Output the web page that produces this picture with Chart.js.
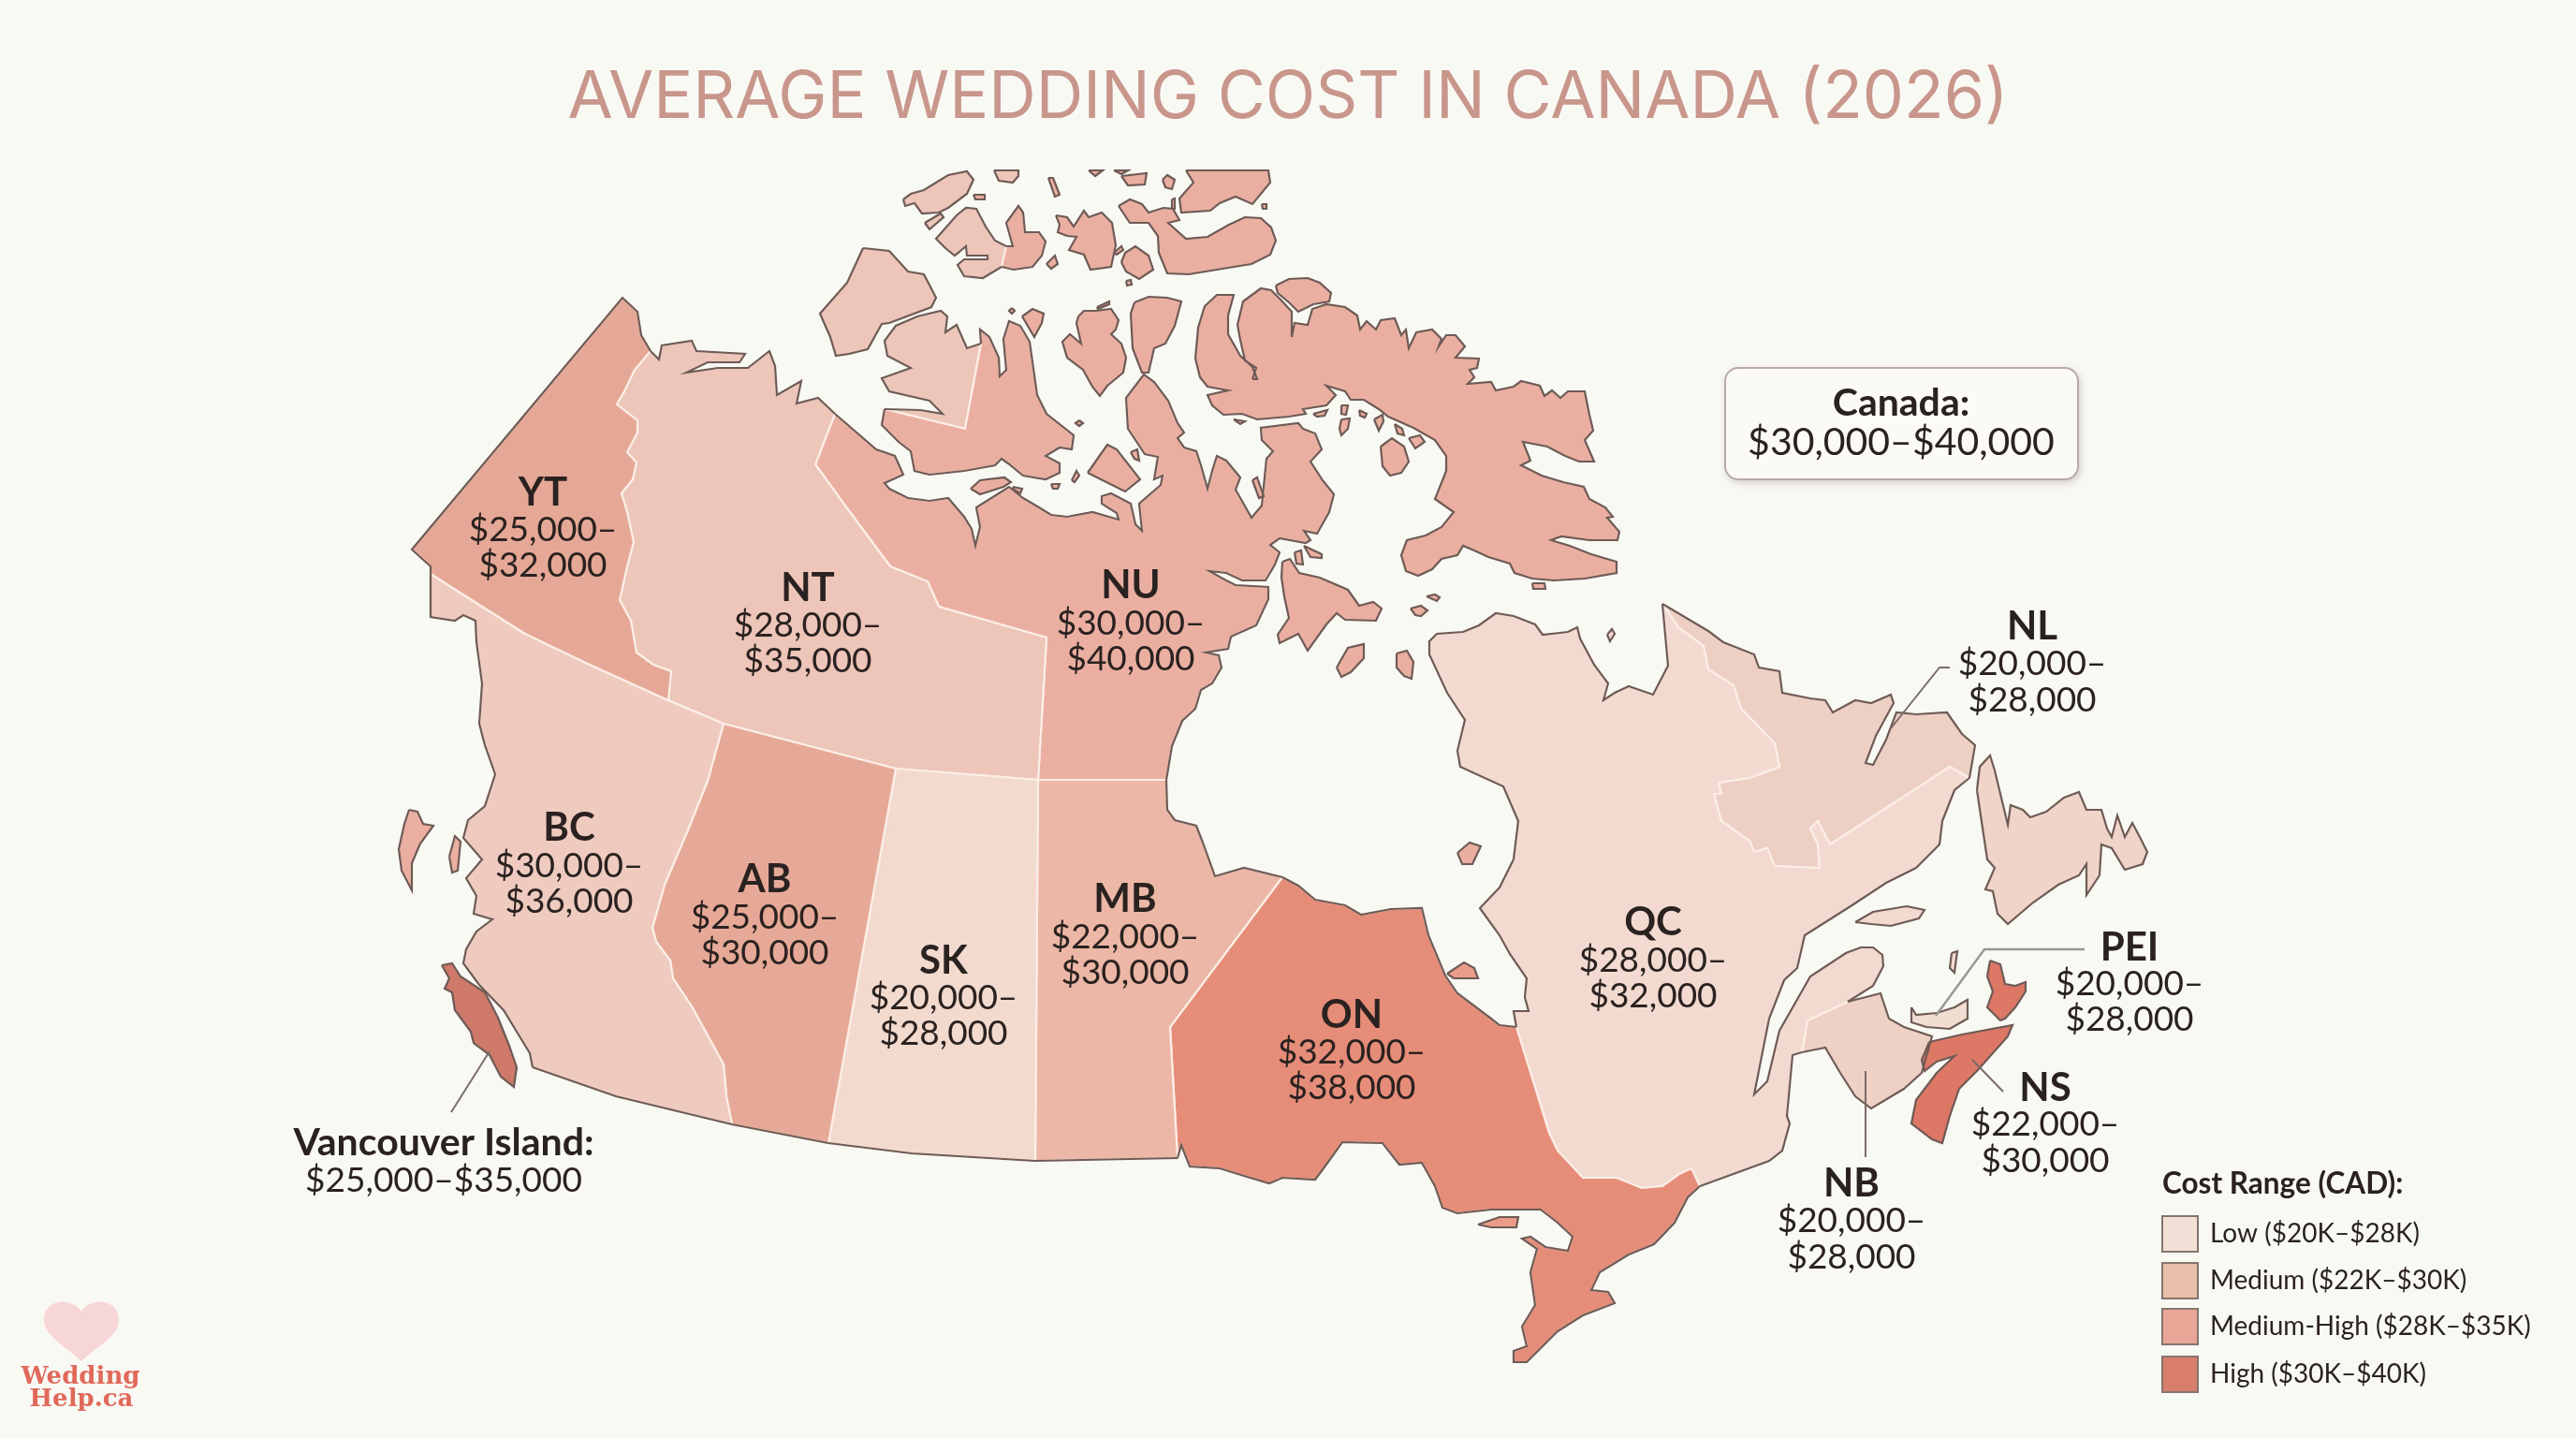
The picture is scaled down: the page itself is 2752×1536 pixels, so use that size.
<!DOCTYPE html>
<html>
<head>
<meta charset="utf-8">
<title>Average wedding cost in Canada</title>
<script src="https://cdn.jsdelivr.net/npm/chart.js"></script>
<style>
  html, body { margin: 0; padding: 0; background: #f9f9f4; }
  canvas { display: block; }
</style>
</head>
<body>
<canvas id="map" width="2752" height="1536"></canvas>
<script>
// =============== data ===============
const titleText = "AVERAGE WEDDING COST IN CANADA (2026)";

const regionCodes = ["YT", "NT", "NU", "BC", "AB", "SK", "MB", "ON", "QC", "NL", "PEI", "NS", "NB"];
const costLow  = [25000, 28000, 30000, 30000, 25000, 20000, 22000, 32000, 28000, 20000, 20000, 22000, 20000];
const costHigh = [32000, 35000, 40000, 36000, 30000, 28000, 30000, 38000, 32000, 28000, 28000, 30000, 28000];
const islandName = "Vancouver Island:";
const islandCost = [25000, 35000];
const canadaCost = [30000, 40000];

const legendTitle = "Cost Range (CAD):";
const legendLabels = ["Low ($20K–$28K)", "Medium ($22K–$30K)", "Medium-High ($28K–$35K)", "High ($30K–$40K)"];

// outlines in picture pixels
const ytNorth = [[460,613],[460,605],[440,587],[665,318],[681,333],[685,358],[695,375]];
const ytNt = [[695,375],[678,395],[667,418],[659,432],[681,449],[681,462],[670,483],[680,494],[676,512],[664,527],[670,547],[677,579],[670,605],[662,641],[674,663],[680,697],[698,710],[717,717],[714,748]];
const ytBc = [[714,748],[630,710],[561,677],[460,613]];
const bcCoast = [[460,613],[460,659],[486,663],[495,657],[508,663],[509,686],[515,730],[512,773],[518,796],[529,827],[518,861],[500,876],[495,895],[515,918],[498,938],[509,957],[506,976],[526,982],[509,995],[498,1014],[495,1029],[512,1052],[538,1079],[552,1102],[566,1125],[569,1140]];
const bcSouth = [[569,1140],[658,1171],[782,1201]];
const abSouth = [[782,1201],[885,1221]];
const skSouth = [[885,1221],[974,1232],[1106,1240]];
const mbSouth = [[1106,1240],[1258,1237]];
const bcAb = [[773,773],[756,834],[736,884],[710,945],[697,991],[701,1006],[716,1026],[719,1045],[739,1075],[756,1106],[773,1137],[776,1171],[782,1201]];
const bcTop = [[714,748],[773,773]];
const abTop = [[773,773],[957,821]];
const skTop = [[957,821],[1109,833]];
const mbTop = [[1109,833],[1246,833]];
const abSk = [[957,821],[885,1221]];
const skMb = [[1109,833],[1106,1240]];
const ntCoast = [[695,375],[704,384],[707,369],[739,364],[744,375],[796,378],[790,387],[756,387],[733,398],[767,393],[799,393],[822,375],[828,391],[830,422],[856,407],[851,431],[874,425],[892,442]];
const ntNu = [[892,442],[871,496],[905,543],[951,605],[991,621],[1003,648],[1118,681],[1109,833]];
const nuCoast = [[892,442],[936,480],[956,487],[965,507],[945,516],[950,522],[970,532],[993,535],[1013,532],[1030,552],[1038,565],[1042,583],[1047,563],[1043,542],[1067,527],[1078,520],[1093,532],[1110,542],[1123,550],[1140,552],[1167,547],[1195,555],[1193,548],[1177,538],[1177,530],[1187,527],[1208,538],[1213,560],[1220,567],[1217,538],[1240,518],[1242,508],[1233,512],[1237,488],[1223,485],[1205,458],[1203,425],[1222,400],[1233,408],[1248,428],[1258,452],[1265,462],[1258,468],[1265,478],[1278,482],[1283,497],[1290,522],[1295,503],[1300,487],[1310,492],[1325,510],[1320,523],[1337,553],[1348,540],[1353,490],[1360,482],[1348,470],[1347,457],[1387,452],[1392,458],[1405,463],[1412,480],[1400,493],[1413,513],[1425,528],[1420,547],[1407,570],[1393,567],[1400,577],[1395,580],[1367,575],[1357,582],[1367,590],[1362,603],[1352,620],[1327,620],[1310,612],[1292,610],[1310,620],[1320,625],[1355,627],[1355,640],[1342,668],[1315,680],[1312,693],[1288,697],[1302,700],[1305,713],[1295,730],[1283,737],[1277,757],[1263,770],[1252,797],[1246,833]];
const mbCoast = [[1246,833],[1247,865],[1255,876],[1278,882],[1285,900],[1298,936],[1329,927],[1370,937]];
const mbOn = [[1370,937],[1250,1097],[1258,1237]];
const onCoast = [[1370,937],[1387,946],[1405,961],[1437,967],[1454,977],[1486,971],[1519,970],[1526,999],[1544,1042],[1557,1061],[1593,1088],[1602,1095],[1620,1097]];
const onQc = [[1620,1097],[1655,1210],[1664,1229],[1691,1258],[1727,1258],[1754,1269],[1776,1267],[1794,1254],[1807,1248],[1816,1267]];
const onSouth = [[1816,1267],[1803,1279],[1789,1306],[1767,1329],[1740,1340],[1709,1359],[1700,1378],[1718,1380],[1725,1392],[1691,1405],[1664,1422],[1646,1440],[1631,1455],[1617,1455],[1617,1443],[1631,1438],[1626,1417],[1640,1394],[1635,1359],[1642,1334],[1626,1323],[1635,1321],[1651,1332],[1675,1336],[1680,1321],[1664,1306],[1646,1292],[1593,1292],[1557,1296],[1541,1290],[1533,1267],[1519,1242],[1495,1244],[1477,1221],[1434,1220],[1419,1241],[1405,1260],[1370,1258],[1356,1264],[1329,1256],[1303,1248],[1271,1246],[1262,1223],[1258,1237]];
const qcBayCoast = [[1620,1097],[1617,1080],[1633,1080],[1629,1065],[1631,1045],[1613,1019],[1602,999],[1581,970],[1602,948],[1617,918],[1622,877],[1606,840],[1560,819],[1557,802],[1565,769],[1546,740],[1527,699],[1527,685],[1535,677],[1563,675],[1580,668],[1598,655],[1617,658],[1640,667],[1648,678],[1675,675],[1685,670],[1688,682],[1703,710],[1718,730],[1713,748],[1725,740],[1740,733],[1766,742],[1782,711],[1776,645]];
const qcNl = [[1776,645],[1793,670],[1820,690],[1825,715],[1852,732],[1860,757],[1896,794],[1901,819],[1869,831],[1836,836],[1839,848],[1831,848],[1839,877],[1869,898],[1874,910],[1888,906],[1896,925],[1944,927],[1942,902],[1934,885],[1942,877],[1955,902],[2083,819],[2104,831]];
const nlCoast = [[1776,645],[1825,674],[1841,686],[1874,699],[1879,713],[1901,717],[1904,740],[1934,746],[1950,748],[1958,761],[1982,748],[1999,751],[2020,742],[2023,751],[2004,786],[1993,815],[2001,817],[2015,790],[2026,761],[2047,763],[2080,761],[2096,784],[2110,796],[2104,831]];
const qcGulfCoast = [[2104,831],[2088,844],[2075,877],[2072,902],[2047,927],[2015,943],[1977,968],[1928,999],[1920,1034],[1906,1047],[1890,1088],[1874,1169],[1888,1155],[1901,1101],[1934,1043],[1972,1018],[1988,1012],[2001,1012],[2011,1020],[2012,1032],[2001,1053],[1974,1070]];
const qcNb = [[1974,1070],[1961,1076],[1931,1090],[1925,1124]];
const qcSouth = [[1925,1124],[1915,1127],[1909,1192],[1912,1200],[1904,1229],[1890,1240],[1816,1267]];
const nbCoast = [[1974,1070],[2009,1061],[2018,1088],[2034,1097],[2064,1107],[2053,1146],[2034,1163],[1999,1184],[1982,1171],[1966,1146],[1950,1119],[1925,1124]];

const vancouverIsland = [[472,1031],[483,1029],[492,1043],[518,1060],[532,1087],[544,1117],[552,1140],[549,1161],[535,1150],[523,1127],[506,1114],[503,1102],[486,1079],[483,1060],[475,1056],[480,1045]];
const nsMain = [[2061,1113],[2096,1105],[2150,1095],[2145,1107],[2112,1144],[2093,1163],[2083,1192],[2075,1221],[2064,1217],[2042,1200],[2047,1175],[2069,1146],[2088,1128],[2069,1134],[2056,1144],[2053,1132]];
const capeBreton = [[2126,1026],[2137,1030],[2142,1051],[2153,1053],[2164,1049],[2164,1059],[2153,1076],[2142,1088],[2137,1090],[2123,1076],[2129,1059],[2123,1043]];
const peiIsland = [[2042,1076],[2047,1084],[2069,1082],[2088,1076],[2102,1068],[2102,1088],[2083,1099],[2058,1097],[2042,1092]];
const newfoundland = [[2112,844],[2115,819],[2126,807],[2131,823],[2145,881],[2148,860],[2161,865],[2169,873],[2186,867],[2205,852],[2221,846],[2229,865],[2245,865],[2251,885],[2256,894],[2262,871],[2270,894],[2278,879],[2286,894],[2294,910],[2289,923],[2270,929],[2256,906],[2245,902],[2243,935],[2229,956],[2229,923],[2221,935],[2199,945],[2172,964],[2145,987],[2134,976],[2129,952],[2121,950],[2131,927],[2123,918]];

const victoriaNtCoast = [[1048,367],[1033,372],[1022,347],[1010,355],[1012,338],[1005,332],[980,338],[957,348],[945,364],[948,380],[973,393],[942,404],[950,418],[993,428],[1007,442],[983,438],[945,437]];
const victoriaNuCoast = [[1048,367],[1047,352],[1057,360],[1067,382],[1068,402],[1075,395],[1072,362],[1078,343],[1090,348],[1100,365],[1108,422],[1118,442],[1147,465],[1145,480],[1132,478],[1117,487],[1132,495],[1132,505],[1117,512],[1093,508],[1077,495],[1070,490],[1063,497],[1030,503],[993,507],[977,503],[973,482],[960,472],[942,454],[945,437]];
const victoriaBorder = [[945,437],[1031,458],[1048,367]];
const melvilleNtCoast = [[1075,263],[1063,257],[1053,242],[1043,223],[1032,222],[1022,230],[1000,255],[1010,265],[1020,273],[1032,263],[1033,273],[1055,273],[1055,277],[1030,277],[1023,283],[1030,295],[1050,297],[1070,285]];
const melvilleNuCoast = [[1075,263],[1082,263],[1075,238],[1088,220],[1093,227],[1095,248],[1110,248],[1117,258],[1113,273],[1103,285],[1083,288],[1070,285]];

const ntIslands = [
  [[922,265],[950,268],[970,290],[987,293],[1000,318],[995,328],[950,345],[942,346],[927,373],[907,378],[893,380],[887,360],[876,335],[905,302]],
  [[965,213],[973,207],[987,203],[1013,187],[1033,183],[1040,192],[1033,207],[1013,222],[1003,227],[985,228],[977,217],[967,220]],
  [[988,238],[1005,228],[1008,232],[993,245]],
  [[1062,182],[1088,182],[1088,188],[1082,195],[1067,193]],
];
const nuIslands = [
  [[1040,208],[1052,208],[1052,213],[1042,213]],
  [[1037,522],[1047,513],[1073,510],[1080,515],[1072,520],[1047,528]],
  [[1082,520],[1092,522],[1090,527],[1083,523]],
  [[1162,505],[1183,475],[1193,480],[1218,512],[1202,525]],
  [[1145,513],[1150,503],[1153,508],[1148,515]],
  [[1123,517],[1132,517],[1130,522],[1125,522]],
  [[1208,483],[1215,480],[1217,492],[1212,490]],
  [[1338,513],[1343,510],[1350,530],[1345,532]],
  [[1081,329],[1084,332],[1081,335],[1078,332]],
  [[1153,449],[1157,452],[1153,455],[1149,452]],
  [[1152,338],[1158,332],[1170,332],[1187,330],[1195,342],[1192,352],[1187,357],[1198,367],[1203,382],[1200,398],[1183,412],[1175,423],[1167,413],[1157,395],[1140,382],[1135,365],[1143,357],[1155,367],[1150,345]],
  [[1172,328],[1185,322],[1185,325],[1173,330]],
  [[1212,323],[1227,317],[1247,318],[1262,322],[1255,348],[1245,367],[1233,372],[1227,398],[1220,398],[1210,372],[1208,335]],
  [[1092,338],[1103,330],[1115,335],[1113,345],[1105,360]],
  [[1118,282],[1127,273],[1130,282],[1123,287]],
  [[1128,230],[1140,232],[1147,242],[1158,225],[1163,232],[1177,227],[1188,238],[1192,262],[1187,285],[1165,288],[1158,272],[1142,267],[1150,253],[1140,252],[1130,248],[1132,240]],
  [[1190,270],[1198,263],[1200,267],[1193,272]],
  [[1198,280],[1202,270],[1213,263],[1227,273],[1232,288],[1217,298],[1203,290]],
  [[1203,300],[1208,299],[1209,304],[1204,305]],
  [[1195,220],[1207,213],[1220,218],[1227,227],[1243,222],[1253,223],[1260,235],[1248,238],[1267,255],[1290,253],[1313,240],[1330,232],[1347,233],[1358,243],[1363,257],[1357,272],[1337,282],[1300,288],[1270,293],[1247,292],[1238,270],[1237,252],[1227,238],[1207,238]],
  [[1267,182],[1355,182],[1357,195],[1338,218],[1320,210],[1303,217],[1293,225],[1262,227],[1260,212],[1275,195]],
  [[1120,190],[1125,190],[1132,208],[1127,210]],
  [[1163,182],[1178,182],[1170,188]],
  [[1190,182],[1205,182],[1198,186]],
  [[1198,188],[1225,185],[1223,197],[1205,198]],
  [[1242,192],[1247,187],[1255,192],[1252,202],[1245,200]],
  [[1252,213],[1255,212],[1255,223],[1252,223]],
  [[1348,218],[1353,218],[1353,223],[1349,223]],
  [[1338,405],[1342,393],[1330,385],[1325,363],[1322,347],[1328,322],[1347,308],[1358,310],[1370,322],[1380,333],[1380,360],[1383,345],[1397,347],[1402,330],[1417,325],[1437,328],[1450,337],[1453,352],[1460,343],[1470,352],[1475,342],[1490,340],[1497,358],[1502,352],[1505,372],[1513,355],[1530,352],[1540,362],[1537,370],[1545,358],[1555,358],[1565,370],[1555,382],[1580,383],[1578,393],[1570,395],[1575,403],[1568,410],[1593,408],[1598,417],[1617,413],[1625,407],[1645,412],[1650,423],[1658,417],[1667,425],[1675,418],[1693,418],[1698,443],[1702,460],[1693,470],[1703,493],[1687,493],[1672,487],[1653,477],[1627,472],[1633,487],[1635,492],[1625,497],[1647,508],[1670,515],[1692,520],[1698,533],[1715,542],[1723,552],[1717,553],[1730,568],[1728,577],[1698,577],[1668,573],[1657,577],[1677,583],[1700,592],[1727,600],[1727,612],[1693,618],[1660,620],[1637,618],[1618,612],[1613,602],[1590,595],[1575,588],[1563,583],[1557,593],[1540,597],[1530,608],[1515,615],[1502,610],[1497,593],[1503,577],[1523,572],[1540,563],[1553,547],[1533,533],[1545,503],[1545,487],[1533,470],[1510,457],[1483,445],[1473,437],[1457,427],[1443,427],[1437,418],[1417,412],[1427,422],[1417,433],[1392,437],[1395,442],[1377,445],[1343,448],[1327,442],[1307,443],[1295,433],[1290,422],[1312,417],[1290,413],[1282,403],[1277,383],[1280,350],[1287,327],[1300,315],[1318,315],[1312,337],[1312,357],[1325,380],[1338,392],[1343,405]],
  [[1363,305],[1377,298],[1397,297],[1410,302],[1422,313],[1420,322],[1403,325],[1387,333],[1377,323],[1365,313]],
  [[1318,448],[1330,450],[1325,453]],
  [[1403,442],[1418,438],[1415,444],[1407,445]],
  [[1433,433],[1440,433],[1438,443],[1432,442]],
  [[1433,448],[1442,447],[1440,458],[1433,465],[1431,458]],
  [[1452,438],[1460,442],[1458,446],[1453,444]],
  [[1468,448],[1477,443],[1478,450],[1473,460]],
  [[1490,453],[1498,458],[1500,465],[1493,463]],
  [[1505,468],[1517,465],[1522,472],[1512,479]],
  [[1475,477],[1487,468],[1500,477],[1505,493],[1497,505],[1485,508],[1477,498]],
  [[1370,600],[1378,597],[1388,612],[1410,617],[1440,630],[1452,647],[1467,643],[1476,650],[1470,663],[1437,662],[1428,655],[1417,667],[1397,695],[1387,677],[1367,687],[1365,678],[1377,660],[1372,637],[1369,617]],
  [[1383,590],[1390,588],[1392,603],[1385,602]],
  [[1393,583],[1412,592],[1412,596],[1400,595]],
  [[1428,713],[1440,692],[1457,688],[1457,703],[1443,718],[1433,723]],
  [[1492,698],[1503,695],[1510,707],[1508,725],[1500,722],[1492,713]],
  [[1507,650],[1518,647],[1525,652],[1518,658],[1512,657]],
  [[1524,637],[1533,635],[1538,638],[1535,642]],
  [[1637,623],[1650,623],[1651,629],[1638,629]],
];
const qcIslands = [
  [[1717,678],[1722,672],[1725,677],[1720,685]],
  [[1982,985],[2001,974],[2037,968],[2056,972],[2050,981],[2020,989],[1999,987]],
  [[2085,1018],[2091,1016],[2088,1039],[2083,1034]],
];
const bcIslands = [
  [[437,865],[446,867],[452,880],[463,882],[449,901],[440,922],[440,951],[429,930],[426,907],[432,880]],
  [[480,915],[486,893],[492,899],[489,930],[483,932]],
];
const onIslands = [
  [[1579,1308],[1602,1300],[1622,1300],[1620,1311],[1593,1311]],
  [[1546,1040],[1564,1028],[1575,1034],[1579,1045],[1553,1045]],
];
const jamesIsland = [[1557,911],[1570,900],[1582,904],[1573,923],[1562,923]];

const leaderLines = [
  [[523,1123],[482,1188]],
  [[2083,713],[2072,713],[2020,778]],
  [[2107,1132],[2140,1166]],
  [[1993,1144],[1993,1236]],
];
const peiLeader = [[2227,1014],[2120,1014],[2068,1085]];

// label anchors: centre x, then name / first / second line y
const labelSpots = {
  YT: [580, 526, 566, 604], NT: [863, 628, 668, 706], NU: [1208, 625, 666, 704],
  BC: [608, 884, 925, 963], AB: [817, 939, 980, 1018], SK: [1008, 1026, 1066, 1104],
  MB: [1202, 960, 1001, 1039], ON: [1444, 1084, 1124, 1162], QC: [1766, 985, 1026, 1064],
  NL: [2171, 669, 709, 748], PEI: [2275, 1012, 1051, 1089], NS: [2185, 1162, 1201, 1240],
  NB: [1978, 1264, 1304, 1343],
};

// =============== colours ===============
const fills = {
  YT: "#e6a896", NT: "#edc5b9", NU: "#ebafa2", BC: "#efcbbf", AB: "#e7a997", SK: "#f2dace",
  MB: "#ecb7a6", ON: "#e68d79", QC: "#f3dad1", NL: "#edcfc4", NB: "#efd0c4", NS: "#dd7766",
  PEI: "#f2ddd2", VI: "#cf796b", NF: "#f0d4c9",
};
const legendColors = ["#f2e0d6", "#e8bfa8", "#e9a596", "#d97e6b"];
const COAST = "#6e5b55";
const INNER = "#fbeee6";
const INK = "#2a2220";

// =============== helpers ===============
const pts = (list) => list.map(p => ({ x: p[0], y: p[1] }));
const rev = (list) => list.slice().reverse();

function area(list, color, edge) {
  return { data: pts(list.concat([list[0]])), showLine: true, fill: "shape", backgroundColor: color,
           borderColor: edge || INNER, borderWidth: 2.2, pointRadius: 0, tension: 0, order: 2 };
}
function island(list, color) {
  const d = area(list, color, COAST);
  d.order = 1;
  return d;
}
function stroke(list, color, width) {
  return { data: pts(list), showLine: true, fill: false, borderColor: color, borderWidth: width || 2.2,
           pointRadius: 0, tension: 0, order: 0 };
}
const money = (v) => "$" + v.toLocaleString("en-US");

// =============== datasets ===============
const provinces = [
  area([...ytNorth, ...ytNt, ...ytBc], fills.YT),
  area([...bcCoast, ...bcSouth, ...rev(bcAb), ...rev(bcTop), ...rev(ytBc)], fills.BC),
  area([...bcAb, ...abSouth, ...rev(abSk), ...rev(abTop)], fills.AB),
  area([...abSk, ...skSouth, ...rev(skMb), ...rev(skTop)], fills.SK),
  area([...ntCoast, ...ntNu, ...rev(skTop), ...rev(abTop), ...rev(bcTop), ...rev(ytNt)], fills.NT),
  area([...nuCoast, ...rev(mbTop), ...rev(ntNu)], fills.NU),
  area([...mbTop, ...mbCoast, ...mbOn, ...rev(mbSouth), ...rev(skMb)], fills.MB),
  area([...onCoast, ...onQc, ...onSouth, ...rev(mbOn)], fills.ON),
  area([...qcBayCoast, ...qcNl, ...qcGulfCoast, ...qcNb, ...qcSouth, ...rev(onQc)], fills.QC),
  area([...nlCoast, ...rev(qcNl)], fills.NL),
  area([...nbCoast, ...rev(qcNb)], fills.NB),
  area([...victoriaNuCoast, ...victoriaBorder], fills.NU),
  area([...victoriaNtCoast, ...victoriaBorder], fills.NT),
  area(melvilleNuCoast, fills.NU),
  area(melvilleNtCoast, fills.NT),
];
const coasts = [ytNorth, bcCoast, bcSouth, abSouth, skSouth, mbSouth, ntCoast, nuCoast, mbCoast, onCoast,
  onSouth, qcBayCoast, nlCoast, qcGulfCoast, qcSouth, nbCoast,
  victoriaNtCoast, victoriaNuCoast, melvilleNtCoast, melvilleNuCoast].map(c => stroke(c, COAST));

const islands = [
  ...ntIslands.map(i => island(i, fills.NT)),
  ...nuIslands.map(i => island(i, fills.NU)),
  ...qcIslands.map(i => island(i, fills.QC)),
  ...bcIslands.map(i => island(i, fills.NU)),
  ...onIslands.map(i => island(i, "#eb9c88")),
  island(jamesIsland, fills.NU),
  island(vancouverIsland, fills.VI),
  island(nsMain, fills.NS),
  island(capeBreton, fills.NS),
  island(peiIsland, fills.PEI),
  island(newfoundland, fills.NF),
];
const leaders = [...leaderLines.map(l => stroke(l, "#7a6c66", 2)), stroke(peiLeader, "#9d9792", 2.5)];

// =============== drawing of texts ===============
const mapLabels = {
  id: "mapLabels",
  afterDatasetsDraw(chart) {
    const { ctx, scales: { x, y } } = chart;
    const put = (text, px, py, font, color) => {
      ctx.font = font;
      ctx.fillStyle = color || INK;
      ctx.fillText(text, x.getPixelForValue(px), y.getPixelForValue(py));
    };
    ctx.save();
    ctx.textAlign = "center";
    ctx.textBaseline = "middle";

    regionCodes.forEach((code, i) => {
      const s = labelSpots[code];
      put(code, s[0], s[1], "700 42px Lato");
      put(money(costLow[i]) + "–", s[0], s[2], "400 37px Lato");
      put(money(costHigh[i]), s[0], s[3], "400 37px Lato");
    });
    put(islandName, 474, 1221, "700 41px Lato");
    put(money(islandCost[0]) + "–" + money(islandCost[1]), 474, 1261, "400 37px Lato");

    // Canada box
    const bx = x.getPixelForValue(1843), by = y.getPixelForValue(393);
    ctx.save();
    ctx.shadowColor = "rgba(90,70,60,.28)";
    ctx.shadowBlur = 8;
    ctx.shadowOffsetX = 2;
    ctx.shadowOffsetY = 3;
    ctx.fillStyle = "#fbfaf6";
    ctx.strokeStyle = "#b9aaa3";
    ctx.lineWidth = 2;
    ctx.beginPath();
    ctx.roundRect(bx, by, 377, 119, 14);
    ctx.fill();
    ctx.shadowColor = "transparent";
    ctx.stroke();
    ctx.restore();
    put("Canada:", 2031, 431, "700 41px Lato");
    put(money(canadaCost[0]) + "–" + money(canadaCost[1]), 2031, 473, "400 41px Lato");

    // legend
    ctx.textAlign = "left";
    put(legendTitle, 2310, 1265, "700 31.5px Lato");
    const swatchY = [1299, 1349, 1398, 1449];
    legendLabels.forEach((label, i) => {
      ctx.fillStyle = legendColors[i];
      ctx.strokeStyle = "#85756d";
      ctx.lineWidth = 2;
      ctx.fillRect(x.getPixelForValue(2310), y.getPixelForValue(swatchY[i]), 38, 38);
      ctx.strokeRect(x.getPixelForValue(2310), y.getPixelForValue(swatchY[i]), 38, 38);
      put(label, 2361, swatchY[i] + 19, "400 28px Lato");
    });

    // logo
    const hx = x.getPixelForValue(87), hy = y.getPixelForValue(1401);
    ctx.fillStyle = "#f6d6d6";
    ctx.beginPath();
    ctx.moveTo(hx, hy);
    ctx.bezierCurveTo(hx - 10, hy - 16, hx - 40, hy - 14, hx - 40, hy + 9);
    ctx.bezierCurveTo(hx - 40, hy + 26, hx - 18, hy + 36, hx, hy + 53);
    ctx.bezierCurveTo(hx + 18, hy + 36, hx + 40, hy + 26, hx + 40, hy + 9);
    ctx.bezierCurveTo(hx + 40, hy - 14, hx + 10, hy - 16, hx, hy);
    ctx.fill();
    ctx.textAlign = "center";
    put("Wedding", 86, 1471, "700 26px 'DejaVu Serif'", "#e0695a");
    put("Help.ca", 87, 1495, "700 26px 'DejaVu Serif'", "#e0695a");
    ctx.restore();
  },
};

// =============== chart ===============
new Chart(document.getElementById("map"), {
  type: "scatter",
  data: { datasets: [...leaders, ...coasts, ...islands, ...provinces] },
  options: {
    responsive: false,
    animation: false,
    devicePixelRatio: 1,
    layout: { padding: 0 },
    plugins: {
      legend: { display: false },
      tooltip: { enabled: false },
      title: {
        display: true,
        text: titleText,
        color: "#c9968c",
        font: { family: "Inter", size: 70, weight: "400", lineHeight: 1 },
        padding: { top: 70, bottom: 20 },
      },
    },
    scales: {
      x: { type: "linear", display: false, min: 0, max: 2752 },
      y: { type: "linear", display: false, min: 160, max: 1536, reverse: true },
    },
  },
  plugins: [mapLabels],
});
</script>
</body>
</html>
